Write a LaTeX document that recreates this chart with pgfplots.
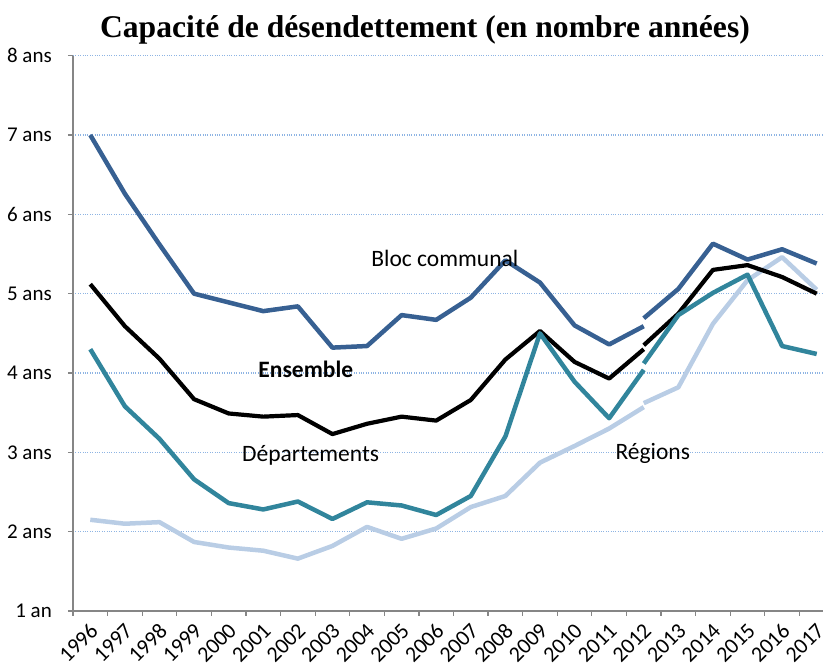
\documentclass[border=0pt]{standalone}
\usepackage{pgfplots}
\pgfplotsset{compat=1.18}
\usepackage{fontspec}
\setmainfont{Carlito}
\newfontfamily\titlefont{Liberation Serif}
\definecolor{bloc}{HTML}{376092}
\definecolor{dep}{HTML}{31859C}
\definecolor{reg}{HTML}{B9CDE5}
\definecolor{gridc}{HTML}{8EB4E3}
\definecolor{axc}{HTML}{868686}
\begin{document}
\begin{tikzpicture}
\path[use as bounding box] (-73pt,-57pt) rectangle (750pt,611pt);
\clip (-73pt,-57pt) rectangle (750pt,611pt);
\begin{axis}[at={(0pt,0pt)}, anchor=south west, scale only axis,
  width=761pt, height=555.3pt,
  xmin=-0.5, xmax=21.5, ymin=1, ymax=8,
  axis lines=left, axis line style={-, draw=axc, line width=1.5pt},
  tick align=outside, major tick length=5pt, minor tick length=5pt,
  xtick={0,...,21},
  xticklabels={1996,1997,1998,1999,2000,2001,2002,2003,2004,2005,2006,2007,2008,2009,2010,2011,2012,2013,2014,2015,2016,2017},
  minor xtick={-0.5,0.5,...,21.5},
  major x tick style={draw=none},
  minor x tick style={draw=axc, line width=1.2pt},
  ytick={1,...,8},
  yticklabels={1 an,2 ans,3 ans,4 ans,5 ans,6 ans,7 ans,8 ans},
  ytick style={draw=axc, line width=1.2pt},
  ymajorgrids, major grid style={gridc, dotted, line width=1.2pt},
  /pgf/number format/assume math mode=true,
  xticklabel style={font=\fontsize{22}{22}\selectfont, xshift=4pt, yshift=-11pt, rotate=45, anchor=east, inner sep=0pt},
  yticklabel style={font=\fontsize{21}{21}\selectfont, anchor=east, inner sep=0pt, xshift=-16pt},
  every axis plot/.append style={line join=round, mark=none},
]
% Regions
\addplot[reg, line width=4.5pt] coordinates {(0,2.15)(1,2.10)(2,2.12)(3,1.87)(4,1.80)(5,1.76)(6,1.66)(7,1.82)(8,2.06)(9,1.91)(10,2.04)(11,2.31)(12,2.45)(13,2.87)(14,3.08)(15,3.30)(16,3.57)};
\addplot[reg, line width=4.5pt] coordinates {(16,3.62)(17,3.82)(18,4.62)(19,5.17)(20,5.46)(21,5.05)};
% Ensemble
\addplot[black, line width=4.2pt] coordinates {(0,5.12)(1,4.59)(2,4.18)(3,3.67)(4,3.49)(5,3.45)(6,3.47)(7,3.23)(8,3.36)(9,3.45)(10,3.40)(11,3.66)(12,4.17)(13,4.53)(14,4.14)(15,3.93)(16,4.30)};
\addplot[black, line width=4.2pt] coordinates {(16,4.35)(17,4.75)(18,5.30)(19,5.36)(20,5.21)(21,5.00)};
% Bloc communal
\addplot[bloc, line width=4.5pt] coordinates {(0,7.00)(1,6.26)(2,5.62)(3,5.00)(4,4.89)(5,4.78)(6,4.84)(7,4.32)(8,4.34)(9,4.73)(10,4.67)(11,4.95)(12,5.42)(13,5.14)(14,4.60)(15,4.36)(16,4.59)};
\addplot[bloc, line width=4.5pt] coordinates {(16,4.69)(17,5.06)(18,5.63)(19,5.43)(20,5.56)(21,5.38)};
% Departements
\addplot[dep, line width=4.5pt] coordinates {(0,4.30)(1,3.58)(2,3.17)(3,2.66)(4,2.36)(5,2.28)(6,2.38)(7,2.16)(8,2.37)(9,2.33)(10,2.21)(11,2.45)(12,3.20)(13,4.50)(14,3.89)(15,3.43)(16,4.04)};
\addplot[dep, line width=4.5pt] coordinates {(16,4.12)(17,4.73)(18,5.01)(19,5.24)(20,4.34)(21,4.24)};
\node[font=\fontsize{23.5}{23.5}\selectfont] at (axis cs:10.25,5.45) {Bloc communal};
\node[font=\fontsize{23.5}{23.5}\selectfont\bfseries] at (axis cs:6.23,4.05) {Ensemble};
\node[font=\fontsize{23.5}{23.5}\selectfont] at (axis cs:6.37,2.96) {Départements};
\node[font=\fontsize{23.5}{23.5}\selectfont] at (axis cs:16.26,2.99) {Régions};
\end{axis}
\node[font=\titlefont\bfseries\fontsize{31.6}{31.6}\selectfont] at (352pt,581pt) {Capacité de désendettement (en nombre années)};
\end{tikzpicture}
\end{document}
